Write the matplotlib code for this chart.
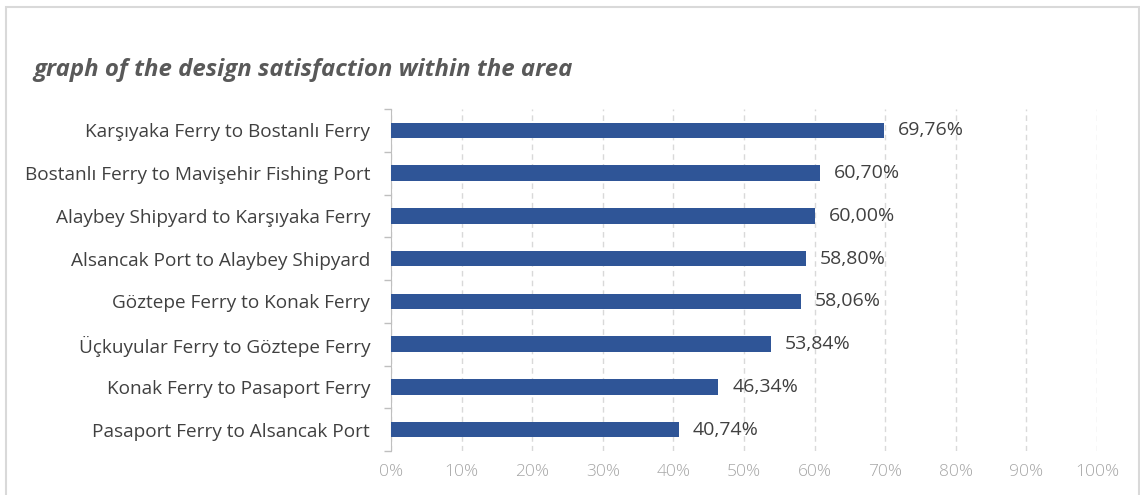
import matplotlib
matplotlib.use("Agg")
import matplotlib.pyplot as plt
from matplotlib.patches import Rectangle
from matplotlib.ticker import FuncFormatter, MultipleLocator

routes = [
    "Karşıyaka Ferry to Bostanlı Ferry",
    "Bostanlı Ferry to Mavişehir Fishing Port",
    "Alaybey Shipyard to Karşıyaka Ferry",
    "Alsancak Port to Alaybey Shipyard",
    "Göztepe Ferry to Konak Ferry",
    "Üçkuyular Ferry to Göztepe Ferry",
    "Konak Ferry to Pasaport Ferry",
    "Pasaport Ferry to Alsancak Port",
]
satisfaction = [69.76, 60.70, 60.00, 58.80, 58.06, 53.84, 46.34, 40.74]

plt.rcParams['font.family'] = ['Open Sans', 'DejaVu Sans']

fig = plt.figure(figsize=(11.4, 4.95), dpi=100)
fig.patches.append(Rectangle((6 / 1140, -0.01), 1133 / 1140, 1 - 7 / 495 + 0.01,
                             transform=fig.transFigure, fill=False,
                             edgecolor='#d9d9d9', linewidth=1.5))

ax = fig.add_axes([391 / 1140, 1 - 451 / 495, 706 / 1140, 342 / 495])
ypos = list(range(len(routes)))[::-1]
ax.barh(ypos, satisfaction, height=0.36, color='#2f5597', zorder=3)

for y, v in zip(ypos, satisfaction):
    ax.text(v + 2.0, y, f"{v:.2f}%".replace('.', ','), va='center', ha='left',
            fontsize=14, color='#404040')

ax.set_xlim(0, 100)
ax.set_ylim(-0.5, len(routes) - 0.5)
ax.xaxis.set_major_locator(MultipleLocator(10))
ax.xaxis.set_major_formatter(FuncFormatter(lambda x, p: f"{x:.0f}%"))
ax.grid(axis='x', color='#d9d9d9', linestyle=(0, (4, 3)), linewidth=1, zorder=0)

ax.set_yticks(ypos)
ax.set_yticklabels(routes, fontsize=13.7, color='#404040')
ax.set_yticks([i - 0.5 for i in range(len(routes) + 1)], minor=True)
ax.tick_params(axis='y', which='major', length=0, pad=15)
ax.tick_params(axis='y', which='minor', length=5, color='#bfbfbf', width=1)
ax.tick_params(axis='x', length=0, labelsize=12.5, labelcolor='#a6a6a6', pad=9)
for lbl in ax.get_xticklabels():
    lbl.set_fontweight('light')

for s in ['top', 'right', 'bottom']:
    ax.spines[s].set_visible(False)
ax.spines['left'].set_color('#bfbfbf')

fig.text(33 / 1140, 1 - 70 / 495, "graph of the design satisfaction within the area",
         fontsize=17.3, fontweight='bold', fontstyle='italic', color='#595959', va='center')

fig.savefig("out.png", dpi=100)
